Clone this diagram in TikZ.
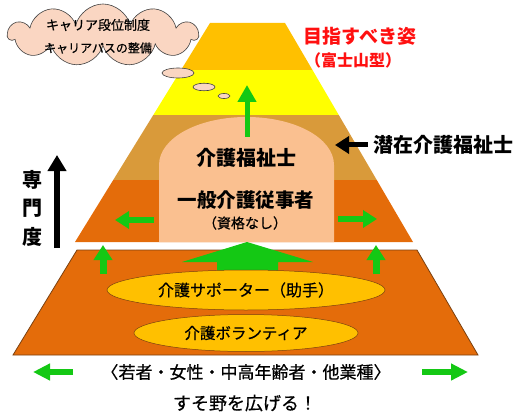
\documentclass[tikz,border=0pt]{standalone}
\usepackage{fontspec}
\setmainfont{Noto Sans CJK JP}
\newfontfamily\jpmed{Noto Sans CJK JP}[FakeBold=0.6]
\usetikzlibrary{arrows.meta,shapes.symbols,shapes.geometric}
\definecolor{cTop}{HTML}{FFC000}
\definecolor{cYel}{HTML}{FFFF00}
\definecolor{cTan}{HTML}{D99A3A}
\definecolor{cOra}{HTML}{E46C0A}
\definecolor{cPeach}{HTML}{FAC090}
\definecolor{cGreen}{HTML}{14C814}
\definecolor{cEdge}{HTML}{7A4010}
\definecolor{cCloud}{HTML}{FAD6C2}
\definecolor{cGray}{HTML}{404040}
\definecolor{cRed}{HTML}{FF1010}
\begin{document}
\begin{tikzpicture}[x=1pt,y=-1pt,
  garrow/.style={draw=cGreen, line width=#1},
  garrow/.default=6pt,
  barrow/.style={draw=black, line width=5.5pt},
  oval/.style={ellipse, draw=cEdge, line width=0.5pt, fill=cTop, inner sep=0pt},
  bubble/.style={ellipse, draw=cGray, line width=0.6pt, fill=cCloud, inner sep=0pt},
  lbl/.style={inner sep=0pt, font=#1},
]
\useasboundingbox (0,0) rectangle (513,414);

% upper pyramid
\coordinate (UTL) at (210,23);
\coordinate (UTR) at (285,23);
\coordinate (UBR) at (413,242);
\coordinate (UBL) at (75,242);
\begin{scope}
\clip (UTL) -- (UTR) -- (UBR) -- (UBL) -- cycle;
\fill[cTop] (0,0) rectangle (513,70);
\fill[cYel] (0,70) rectangle (513,115);
\fill[cTan] (0,115) rectangle (513,180);
\fill[cOra] (0,180) rectangle (513,243);
\end{scope}
% arch
\fill[cPeach] (159,242) -- (159,165) .. controls (159,138) and (198.2,117) .. (246.5,117)
  .. controls (294.8,117) and (334,138) .. (334,165) -- (334,242) -- cycle;

% green arrows upper
\coordinate (a1s) at (247,137); \coordinate (a1e) at (247,85);
\draw[garrow=5pt, -{Triangle[length=17pt,width=18pt]}] (a1s) -- (a1e);
\coordinate (a2s) at (154,220); \coordinate (a2e) at (115,220);
\draw[garrow=6pt, -{Triangle[length=14pt,width=17pt]}] (a2s) -- (a2e);
\coordinate (a3s) at (338,219); \coordinate (a3e) at (377,219);
\draw[garrow=6pt, -{Triangle[length=14pt,width=17pt]}] (a3s) -- (a3e);

% lower trapezoid
\draw[fill=cOra, draw=cEdge, line width=0.8pt] (77,250) -- (417,250) -- (478,355) -- (13,355) -- cycle;

% big green arrow
\fill[cGreen] (217,292) -- (217,262) -- (182,262) -- (247,242) -- (313,262) -- (278,262) -- (278,292) -- cycle;
% small up arrows
\coordinate (a4s) at (103,274); \coordinate (a4e) at (103,245);
\draw[garrow=7pt, -{Triangle[length=15pt,width=18pt]}] (a4s) -- (a4e);
\coordinate (a5s) at (376,274); \coordinate (a5e) at (376,245);
\draw[garrow=7pt, -{Triangle[length=15pt,width=18pt]}] (a5s) -- (a5e);

% ovals
\node[oval, minimum width=278pt, minimum height=40pt, font=\jpmed\fontsize{16}{18}\selectfont] (sup) at (246,290) {介護サポーター（助手）};
\node[oval, minimum width=224pt, minimum height=37pt, font=\jpmed\fontsize{15.5}{18}\selectfont] (vol) at (246,333) {介護ボランティア};

% texts in arch
\node[lbl=\fontsize{20}{22}\selectfont\bfseries] (kf) at (246,158) {介護福祉士};
\node[lbl=\fontsize{19.5}{22}\selectfont\bfseries] (ip) at (246,200) {一般介護従事者};
\node[lbl=\jpmed\fontsize{14}{16}\selectfont] (sk) at (245,223) {（資格なし）};

% 専門度
\node[lbl=\fontsize{20}{22}\selectfont\bfseries] (s1) at (32,180) {専};
\node[lbl=\fontsize{20}{22}\selectfont\bfseries] (s2) at (32,208) {門};
\node[lbl=\fontsize{20}{22}\selectfont\bfseries] (s3) at (32,237) {度};
\coordinate (b1s) at (57,248); \coordinate (b1e) at (57,155);
\draw[barrow, -{Triangle[length=16pt,width=18pt]}] (b1s) -- (b1e);

% 潜在介護福祉士
\node[lbl=\fontsize{20}{22}\selectfont\bfseries, anchor=west] (sz) at (373,145) {潜在介護福祉士};
\coordinate (b2e) at (335,145);
\draw[draw=black, line width=5pt, -{Triangle[length=14pt,width=17pt]}] (sz.west) ++(-5,0) -- (b2e);

% red title
\node[lbl=\fontsize{19}{22}\selectfont\bfseries, text=cRed] (goal) at (360,36) {目指すべき姿};
\node[lbl=\fontsize{16}{18}\selectfont\bfseries, text=cRed] (fuji) at (353,60) {（富士山型）};

% cloud
\node[cloud, cloud puffs=11, aspect=3, minimum width=190pt, minimum height=62pt, fill=cCloud, draw=cGray, line width=0.6pt] (cl) at (103,35) {};
\node[lbl=\jpmed\fontsize{13}{15}\selectfont] (c1) at (98,25) {キャリア段位制度};
\node[lbl=\jpmed\fontsize{12}{15}\selectfont] (c2) at (98,48) {キャリアパスの整備};
\node[bubble, minimum width=32pt, minimum height=10pt] (bb1) at (178,73) {};
\node[bubble, minimum width=22pt, minimum height=7.5pt] (bb2) at (204,87) {};
\node[bubble, minimum width=12pt, minimum height=5pt] (bb3) at (224,96) {};

% bottom
\node[lbl=\jpmed\fontsize{17}{20}\selectfont] (grp) at (246,372) {〈若者・女性・中高年齢者・他業種〉};
\node[lbl=\jpmed\fontsize{18}{20}\selectfont] (sus) at (245,403) {すそ野を広げる！};
\coordinate (g1s) at (73,372); \coordinate (g1e) at (33,372);
\draw[garrow=6pt, -{Triangle[length=17pt,width=16pt]}] (g1s) -- (g1e);
\coordinate (g2s) at (422,372); \coordinate (g2e) at (468,372);
\draw[garrow=6pt, -{Triangle[length=17pt,width=16pt]}] (g2s) -- (g2e);
\end{tikzpicture}
\end{document}
